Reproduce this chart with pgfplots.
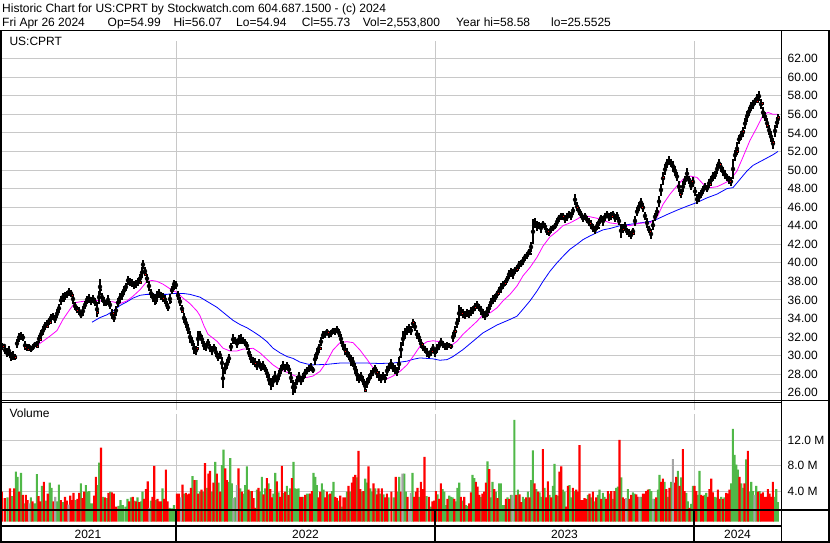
\documentclass[border=0pt]{standalone}
\usepackage{fontspec}
\setmainfont{Liberation Sans}
\usepackage{pgfplots}
\usepackage{pgfplotstable}
\pgfplotsset{compat=1.18}

\definecolor{vgreen}{RGB}{80,184,72}
\definecolor{vred}{RGB}{255,0,0}
\definecolor{vgray}{RGB}{165,165,165}
\definecolor{gridc}{RGB}{200,200,200}
\definecolor{ma1}{RGB}{255,0,255}
\definecolor{ma2}{RGB}{0,0,255}

% daily range (x = trading-day position, low, high)
\pgfplotstableread{
x lo hi
2 30.6 31.4
4 30.8 31.3
5 30.2 31.0
7 29.8 30.8
9 30.0 31.0
11 29.4 30.4
13 29.5 30.5
15 29.5 30.2
17 30.8 31.8
19 31.5 32.4
21 31.7 32.5
23 31.6 32.3
25 30.6 31.6
27 30.5 31.2
29 30.6 31.3
31 30.4 31.0
33 30.6 31.2
35 30.9 31.5
37 31.0 31.6
39 31.4 32.2
41 31.8 32.8
43 32.2 33.2
45 32.8 33.6
47 33.0 33.8
49 33.3 34.1
51 33.6 34.5
53 33.8 34.6
55 33.5 34.4
57 34.0 35.0
59 34.6 35.6
61 35.5 36.4
63 35.8 36.8
65 36.0 36.9
67 36.2 37.0
69 36.4 37.3
71 36.3 37.1
73 35.6 36.6
75 34.9 35.8
77 34.6 35.4
79 34.4 35.2
81 34.0 34.8
83 34.3 35.3
85 35.0 35.9
87 35.6 36.4
89 35.7 36.6
91 35.5 36.3
93 35.7 36.5
95 35.3 36.2
97 34.2 35.8
99 35.6 37.0
100 36.5 38.3
102 35.8 36.8
104 35.4 36.3
106 35.3 36.0
108 35.5 36.5
110 35.0 35.9
112 33.9 35.0
114 33.6 34.5
116 34.3 35.4
118 35.2 36.2
120 35.7 36.7
122 36.0 37.0
124 36.5 37.5
126 37.0 37.8
128 37.6 38.6
130 37.5 38.4
132 37.4 38.3
134 37.2 38.0
136 37.3 38.2
138 37.5 38.4
140 37.8 38.8
142 38.4 39.5
143 39.3 40.3
145 38.6 39.6
147 37.8 38.8
149 37.0 38.0
151 36.2 37.2
153 35.8 36.8
155 35.5 36.6
157 35.8 37.0
159 36.2 37.2
161 36.0 36.9
163 35.8 36.8
165 35.6 36.5
167 35.0 35.9
168 34.8 35.6
170 35.6 36.6
172 36.6 37.5
174 37.3 38.1
176 37.2 38.0
178 36.0 37.0
180 35.3 36.3
182 34.6 35.5
184 33.5 34.6
186 33.0 34.0
188 32.3 33.4
190 31.4 32.6
192 31.0 32.0
194 30.2 31.4
196 30.1 31.0
198 31.0 32.6
200 31.8 32.6
202 31.3 32.2
204 30.6 31.6
206 30.5 31.4
208 31.0 31.8
210 30.4 31.3
212 30.1 31.0
214 30.5 31.2
216 29.8 30.9
218 29.4 30.3
220 29.6 30.5
222 28.6 29.8
223 26.5 28.6
225 28.0 29.2
227 28.6 29.6
229 29.2 30.2
231 30.5 31.4
233 31.2 32.3
235 31.3 32.0
237 30.8 31.8
239 31.2 32.2
241 31.3 32.3
243 31.2 32.0
245 31.0 31.8
247 30.6 31.5
249 29.8 30.8
251 29.2 30.2
253 29.0 29.8
255 28.8 29.7
257 28.4 29.4
259 28.8 29.6
261 28.3 29.2
263 28.5 29.4
265 28.2 29.0
267 27.6 28.6
269 26.8 28.0
271 26.3 27.6
273 26.6 27.8
275 27.2 28.3
277 26.8 27.8
279 27.4 28.4
281 28.0 29.0
283 28.4 29.4
285 28.2 29.1
287 28.5 29.3
289 28.0 29.0
291 27.0 28.2
293 25.8 27.4
295 26.0 27.2
297 26.8 27.8
299 27.2 28.2
301 26.8 27.8
303 27.2 28.1
305 27.6 28.6
307 28.0 28.8
309 28.2 29.0
311 28.3 29.2
313 28.1 28.8
315 29.0 30.2
317 29.6 30.8
319 30.3 31.3
321 31.0 32.0
323 31.8 32.6
325 31.9 32.7
327 32.2 32.9
329 31.9 32.7
331 32.0 32.8
333 32.3 33.0
335 32.2 33.0
337 32.4 33.2
339 32.0 32.9
341 31.3 32.3
343 30.6 31.6
345 30.1 31.2
347 29.8 30.8
349 29.5 30.4
351 28.9 30.1
353 28.8 29.8
355 28.0 29.2
357 27.3 28.6
359 27.0 28.0
361 27.3 28.2
363 26.8 27.8
365 26.2 27.3
367 26.5 27.6
369 27.0 28.0
371 27.5 28.4
373 27.8 28.7
375 28.2 29.0
377 27.6 28.6
379 27.3 28.3
381 27.0 28.0
383 27.4 28.2
385 27.1 28.0
387 27.8 28.9
389 28.3 29.2
391 28.6 29.6
393 28.2 29.2
395 28.0 29.0
397 27.8 28.8
399 28.4 29.8
401 29.8 31.5
403 31.0 32.6
405 31.8 33.0
407 32.2 33.2
409 32.4 33.4
411 32.2 33.2
413 33.0 33.9
415 32.6 33.6
417 31.8 32.8
419 31.5 32.4
421 30.8 31.8
423 30.5 31.3
425 30.3 31.0
427 29.9 30.8
429 29.7 30.5
431 30.0 30.8
433 30.4 31.2
435 29.9 30.8
437 30.3 31.2
439 30.6 31.5
441 31.0 31.9
443 30.8 31.6
445 30.6 31.4
447 30.6 31.5
449 30.8 31.4
451 30.7 31.3
453 31.5 32.5
455 32.0 33.2
457 33.0 34.0
459 33.6 35.5
461 34.3 35.2
463 34.0 35.0
465 33.9 34.8
467 34.2 35.0
469 34.0 34.9
471 34.3 35.2
473 34.5 35.4
475 34.8 35.7
477 35.0 35.9
479 34.8 35.6
481 34.4 35.4
483 34.0 35.0
485 33.8 34.8
487 34.2 35.2
489 34.6 35.6
491 35.2 36.2
493 35.6 36.5
495 35.8 36.6
497 36.2 37.0
499 36.5 37.4
501 36.8 37.8
503 37.2 38.0
505 37.5 38.2
507 37.8 38.6
509 38.3 39.2
511 38.5 39.4
513 38.3 39.3
515 38.8 39.6
517 39.0 39.8
519 39.3 40.2
521 39.5 40.3
523 39.8 40.6
525 40.2 41.0
527 40.4 41.2
529 40.8 41.5
531 41.2 42.2
533 42.0 44.7
535 43.8 44.8
537 43.4 44.5
539 43.6 44.4
541 43.2 44.3
543 43.8 44.5
545 43.5 44.3
547 43.0 43.8
549 42.9 43.6
551 43.2 44.0
553 43.4 44.1
555 43.6 44.3
557 44.0 44.8
559 44.4 45.2
561 44.6 45.4
563 44.6 45.4
565 44.3 45.2
567 44.5 45.4
569 44.8 45.6
571 44.6 45.5
573 45.2 46.0
575 46.2 47.4
577 45.6 46.5
579 45.2 46.0
581 44.8 45.6
583 44.4 45.2
585 44.6 45.4
587 44.3 45.0
589 44.0 44.8
591 43.6 44.6
593 43.3 44.2
595 43.1 44.0
597 43.5 44.4
599 44.0 44.7
601 44.4 45.2
603 44.0 45.0
605 44.5 45.4
607 44.8 45.6
609 44.5 45.4
611 44.6 45.5
613 44.8 45.6
615 44.4 45.3
617 44.6 45.5
619 44.1 44.9
621 42.7 44.2
623 43.2 44.2
625 43.5 44.4
627 43.0 43.8
629 42.8 43.6
631 42.6 43.4
633 43.0 43.8
635 44.0 45.0
637 45.0 46.0
639 45.6 46.5
641 46.0 47.0
643 45.5 46.4
645 44.6 45.5
647 43.8 44.8
649 43.2 44.0
651 42.6 43.6
653 43.5 44.6
655 44.5 45.4
657 45.0 46.0
659 46.0 47.2
661 47.2 48.5
663 48.4 49.8
665 49.5 50.6
667 50.2 51.2
669 50.5 51.5
671 50.3 51.2
673 49.8 51.0
675 49.4 50.4
677 48.8 49.8
679 47.6 48.8
681 47.0 48.0
683 47.6 48.8
685 48.4 49.4
687 49.0 50.2
689 48.5 49.4
691 47.8 48.8
693 48.2 49.2
695 47.2 48.2
697 46.3 47.4
699 46.6 47.6
701 47.0 47.8
703 47.4 48.3
705 47.8 48.6
707 47.6 48.4
709 48.1 49.0
711 48.4 49.4
713 48.8 49.8
715 49.0 49.9
717 49.6 50.6
719 50.2 51.2
721 49.8 50.8
723 49.4 50.3
725 49.0 50.0
727 48.8 49.6
729 48.5 49.4
731 48.3 49.2
733 49.0 51.2
735 51.0 52.2
737 51.6 53.0
739 52.8 53.8
741 53.2 54.2
743 53.6 54.6
745 54.4 55.6
747 55.2 56.4
749 55.8 56.8
751 56.4 57.3
753 56.6 57.5
755 57.0 57.8
757 57.2 58.2
759 57.4 58.5
761 56.6 57.6
763 55.6 56.8
765 55.3 56.2
767 54.5 55.6
769 53.8 54.8
771 53.0 54.2
773 52.3 53.4
775 53.6 54.8
777 54.5 55.7
778 54.94 56.07
}\price

\begin{document}
\fontsize{12}{14}\selectfont
\begin{tikzpicture}[x=1pt,y=1pt]
\useasboundingbox (0,0) rectangle (830,543);

% ---- price panel ----
\begin{axis}[
    at={(0,143)}, anchor=south west,
    width=781pt, height=369pt, scale only axis,
    xmin=0, xmax=781, ymin=24.11, ymax=63.87,
    axis line style={draw=none},
    major tick length=0pt,
    xtick={176,435,694}, xticklabels={},
    ytick={26,28,30,32,34,36,38,40,42,44,46,48,50,52,54,56,58,60,62},
    yticklabels={26.00,28.00,30.00,32.00,34.00,36.00,38.00,40.00,42.00,44.00,46.00,48.00,50.00,52.00,54.00,56.00,58.00,60.00,62.00},
    yticklabel pos=right,
    yticklabel style={anchor=west, inner sep=0pt, xshift=6.5pt},
    xmajorgrids, ymajorgrids,
    major grid style={gridc, line width=0.9pt},
]
\addplot[ma2, line width=0.8pt] coordinates {
(92,33.6)(100,34.1)(107,34.4)(113,34.8)(120,35.4)(127,35.8)(133,36.2)(140,36.5)
(147,36.6)(157,36.6)(167,36.6)(173,36.7)(183,36.7)(190,36.6)(200,36.3)(217,35.2)
(233,33.8)(240,33.35)(247,33.0)(253,32.6)(260,32.1)(267,31.5)(273,30.8)(280,30.3)
(287,29.9)(293,29.7)(300,29.3)(307,29.1)(313,29.0)(327,29.06)(340,29.2)(353,29.2)
(367,29.2)(380,29.15)(393,29.2)(400,29.3)(407,29.4)(413,29.6)(420,29.75)(427,29.7)
(433,29.65)(440,29.5)(447,29.57)(453,29.9)(463,30.65)(473,31.55)(483,32.45)(497,33.3)
(510,33.9)(517,34.25)(523,35.0)(530,35.9)(537,36.96)(543,38.0)(550,39.1)(557,40.0)
(563,40.7)(570,41.46)(577,42.0)(583,42.5)(590,42.9)(597,43.26)(603,43.55)(610,43.7)
(620,44.0)(630,44.15)(640,44.3)(650,44.45)(657,44.7)(667,45.2)(677,45.67)(687,46.1)
(697,46.5)(707,47.0)(717,47.4)(727,48.0)(733,48.1)(740,49.0)(747,49.9)(753,50.5)
(760,50.9)(767,51.3)(773,51.65)(778,52.0)};
\addplot[ma1, line width=0.8pt] coordinates {
(32,31.0)(37,31.1)(43,31.55)(50,32.1)(57,32.7)(63,33.9)(70,35.0)(75,35.7)(80,35.8)
(87,35.9)(93,36.0)(100,35.9)(107,35.8)(113,35.8)(120,35.6)(127,35.9)(133,36.4)
(140,37.1)(147,38.0)(152,38.1)(157,38.0)(163,37.7)(170,37.2)(177,36.8)(183,36.2)
(190,35.6)(197,34.8)(200,34.3)(204,33.2)(208,32.3)(217,31.55)(223,30.8)(230,30.5)
(237,30.5)(243,30.7)(250,30.75)(253,30.8)(260,30.3)(267,29.6)(273,29.0)(280,28.5)
(287,28.2)(293,27.9)(300,27.6)(307,27.65)(313,27.8)(320,28.3)(327,29.4)(333,30.6)
(340,31.4)(347,31.5)(353,31.4)(360,30.6)(367,29.6)(373,28.7)(380,27.9)(387,27.5)
(393,27.8)(400,28.3)(407,29.0)(413,29.9)(420,31.0)(427,31.5)(433,31.6)(440,31.5)
(445,31.2)(450,31.0)(457,31.55)(463,32.3)(470,33.0)(477,33.7)(483,34.4)(490,34.6)
(497,35.15)(503,35.9)(510,36.6)(517,37.5)(523,38.6)(530,39.5)(537,40.6)(543,41.8)
(550,42.8)(557,43.4)(563,44.0)(570,44.3)(577,44.7)(583,45.1)(590,44.96)(597,44.8)
(603,44.6)(610,44.3)(617,44.2)(623,44.1)(630,44.0)(637,44.2)(643,44.3)(650,44.3)
(657,44.9)(663,46.3)(670,47.4)(677,48.3)(683,49.0)(690,49.35)(697,49.2)(703,48.5)
(710,48.1)(717,48.2)(723,48.5)(730,48.9)(737,49.9)(743,51.4)(750,53.2)(757,54.6)
(763,55.9)(768,56.2)(773,56.0)(778,56.0)};
% high-low bars
\addplot[only marks, mark=none,
    error bars/.cd, y dir=both, y explicit, error mark=none,
    error bar style={draw=black, line width=2pt}]
    table[x=x, y expr={(\thisrow{lo}+\thisrow{hi})/2},
          y error expr={(\thisrow{hi}-\thisrow{lo})/2}] {\price};
% red ticks
\addplot[only marks, mark=square*, mark size=0.8pt, mark options={draw=none, fill=vred}] coordinates {
(3,31.0)(10,29.9)(15,29.8)(25,30.9)(28,30.7)(37,31.0)(40,31.8)(47,33.2)(50,33.6)(55,34.1)
(63,35.9)(72,36.5)(77,34.9)(82,34.5)(90,35.8)(97,34.7)(100,37.1)(107,35.6)(113,34.6)(123,37.0)
(128,38.2)(140,37.9)(145,38.8)(155,35.7)(163,36.2)(170,35.8)(173,37.2)(182,34.8)(187,33.0)
(192,31.5)(197,30.8)(245,31.4)(255,29.2)(262,28.7)(273,27.3)(282,28.9)(293,26.1)(302,27.4)
(312,28.6)(320,30.8)(328,32.5)(337,32.8)(345,30.5)(355,28.8)(363,27.4)(365,26.3)(377,28.2)
(385,27.6)(395,28.7)(400,29.9)(413,33.6)(422,31.2)(432,30.5)(435,30.3)(450,31.0)(455,32.6)
(462,34.6)(475,35.2)(487,34.4)(498,36.7)(505,37.8)(517,39.3)(530,41.0)(537,44.0)(548,43.4)
(563,45.0)(568,45.2)(577,46.0)(590,44.3)(598,43.8)(612,45.0)(623,43.6)(633,43.2)(642,46.0)
(650,43.4)(655,45.2)(663,49.2)(670,51.0)(680,47.4)(692,48.8)(698,46.9)(710,48.5)(720,50.6)
(730,48.8)(737,52.0)(743,54.2)(750,56.6)(757,57.4)(762,57.2)(767,54.8)(773,53.0)(778,55.7)};
\end{axis}

% ---- volume panel ----
\begin{axis}[
    at={(0,33)}, anchor=south west,
    width=781pt, height=107.5pt, scale only axis,
    xmin=0, xmax=781, ymin=0, ymax=16.63,
    axis line style={draw=none},
    major tick length=0pt,
    xtick={176,435,694}, xticklabels={},
    ytick={4.64,8.64,12.64},
    yticklabels={4.0 M,8.0 M,12.0 M},
    yticklabel pos=right,
    yticklabel style={anchor=west, inner sep=0pt, xshift=6.5pt},
    xmajorgrids, ymajorgrids,
    major grid style={gridc, line width=0.9pt},
    ybar, bar width=2.1, bar shift=0pt,
    y filter/.expression={y+0.64},
]
\addplot[fill=vgreen, draw=none] coordinates {
(7.5,3.1)(12.2,3.3)(15.8,7.1)(17.5,6.3)(21,6.9)(24.2,2.2)(30.8,3.1)(34.5,2.2)(36.8,6.7)
(41.8,4.9)(45.8,2.6)(49.7,5.4)(51.5,4.6)(56.8,2.5)(58.8,5.1)(62.8,2.4)(75.5,2.7)(80.8,5.3)
(85.8,5.0)(87.5,4.0)(89.2,4.1)(91,2.2)(92.5,2.2)(97.5,5.0)(99.2,8.5)(103,3.2)(106.7,3.0)
(110.2,4.0)(118.3,1.8)(120.5,2.7)(122.8,1.9)(125.3,1.7)(127.5,2.9)(131,3.1)(134.2,2.6)
(137.5,3.1)(140.8,2.5)(142.5,4.0)(150.8,2.6)(155.8,2.7)(162.5,4.5)(169.5,1.5)(171.7,1.4)
(174,1.9)(184.2,3.7)(192.5,6.4)(196.5,5.8)(199.8,4.0)(203.2,4.0)(206.8,4.6)(211.7,4.0)
(215.2,8.6)(218.5,5.4)(221.8,8.1)(223.5,10.5)(228.3,5.5)(230.2,9.2)(231.8,5.3)(235.2,3.1)
(240.2,4.5)(243.5,3.7)(245.2,5.0)(246.8,7.9)(250.2,4.1)(256.8,4.3)(260.2,4.0)(261.8,6.3)
(265.2,4.5)(268.5,5.3)(273.5,3.7)(275.2,6.9)(278.5,3.9)(283.5,3.8)(286.8,4.9)(290.2,4.5)
(293.5,8.6)(295.2,4.5)(296.8,4.4)(298.5,4.5)(303.5,3.2)(306.8,3.7)(308.5,3.7)(313.5,6.9)
(315.2,6.3)(316.8,5.0)(321.8,5.3)(323.5,4.3)(328.5,3.6)(331.8,4.1)(333.5,5.5)(338.5,2.6)
(341.8,1.7)(346.8,4.0)(350.2,4.0)(356.8,6.2)(361.8,4.0)(365.2,6.0)(366.8,5.4)(370.2,4.5)
(371.8,4.0)(375.2,4.5)(380.2,3.7)(383.5,3.6)(388.5,3.1)
(393.7,3.1)(397.5,4.0)(399.2,6.3)(404.2,6.8)(405.8,4.0)(412.5,6.9)(419.2,3.2)(426.5,3.3)
(430.8,1.7)(437.5,3.6)(442.5,4.4)(444.2,4.0)(445.8,1.9)(449.2,3.4)(450.8,3.2)(452.5,3.1)
(455.8,2.5)(457.5,4.6)(459.2,5.4)(462.5,2.6)(465.8,1.9)(467.5,1.8)(472.5,6.6)(474.2,6.1)
(480.8,3.2)(487.5,8.7)(490.8,3.1)(492.5,5.5)(495.8,4.0)(499.2,5.3)(500.8,5.3)(502.5,1.9)
(504.2,1.9)(507.5,3.1)(510.8,3.5)(514.3,15.1)(517.8,4.3)(522.8,3.2)(524.5,2.9)(527.8,4.0)
(531.2,5.8)(532.8,10.4)(536.2,4.4)(539.5,3.9)(541.2,3.2)(544.5,4.6)(549.5,3.5)(552.8,4.9)
(554.5,8.3)(557.8,3.4)(562.8,4.3)(564.5,4.0)(569.5,5.0)(571.2,3.1)(574.5,4.1)(587.8,3.5)
(591.2,3.1)(594.5,2.5)(597.8,3.5)(599.5,4.3)(602.8,3.8)(604.5,3.2)(609.5,3.7)(612.8,2.9)
(616.2,4.6)(617.8,4.8)(621.2,6.2)(627.8,4.4)(632.8,3.9)(634.5,3.7)(641.2,3.2)(649.5,4.4)
(651.2,4.1)(654.5,2.9)(657.8,4.3)(659.5,6.6)(664.5,5.5)(667.8,3.2)(671.2,5.5)(677.8,7.2)
(681.2,6.2)(686.2,3.8)(687.8,2.5)(691.2,2.1)(692.8,4.9)(697.8,3.5)(699.5,7.2)(704.5,3.5)
(706.2,3.8)(714.5,3.2)(716.2,3.1)(721.2,3.2)(724.5,3.1)(731.2,5.3)(732.8,13.7)(734.5,9.7)
(736.2,8.2)(737.8,7.4)(741.2,5.3)(742.8,4.6)(746.2,9.0)(749.5,4.0)(751.2,5.5)(752.8,4.1)
(756.2,4.9)(759.5,4.1)(774.5,3.2)(776.2,4.4)(777.8,2.4)};
\addplot[fill=vred, draw=none] coordinates {
(1.7,4.0)(4.7,3.0)(10,4.5)(14.2,4.5)(19.2,4.0)(22.7,3.5)(25.8,3.5)(27.5,2.7)(32.5,2.5)
(38.5,3.3)(40.2,2.5)(43.8,5.5)(47.7,3.7)(53.3,2.5)(60.8,2.7)(65,3.2)(66.8,2.6)(70.2,3.4)
(71.8,2.7)(73.5,3.8)(77.5,2.9)(79.2,3.8)(82.5,3.0)(84.2,4.0)(94.2,3.4)(95.8,6.3)(101,10.8)
(104.8,3.1)(108.5,3.8)(111.8,3.9)(113.8,3.7)(116.2,1.7)(129.2,2.5)(132.7,3.2)(135.8,2.5)
(139.2,2.4)(144.2,2.9)(145.8,4.4)(147.7,5.6)(152.5,3.2)(154.2,8.0)(157.5,2.9)(159.2,2.5)
(160.8,2.5)(164.2,2.9)(165.8,7.4)(167.5,2.5)(177,3.7)(178.7,3.7)(182.5,5.1)(185.8,3.8)
(187.5,3.6)(189.2,3.7)(190.8,4.6)(194.5,5.8)(198.2,3.7)(201.5,4.3)(205,8.4)(208.5,6.8)
(210,7.2)(213.5,5.4)(216.8,6.8)(220.2,4.0)(225.2,7.6)(226.7,5.8)(238.5,7.6)(241.8,4.0)
(248.5,4.3)(251.8,4.1)(253.5,3.0)(255.2,1.5)(258.5,4.6)(263.5,3.6)(266.8,6.1)(270.2,4.4)
(271.8,3.1)(276.8,5.6)(280.2,3.2)(281.8,8.0)(285.2,4.0)(288.5,3.5)(291.8,6.1)(300.2,3.2)
(301.8,3.2)(305.2,3.5)(310.2,3.7)(311.8,4.1)(318.5,3.1)(320.2,4.0)(325.2,3.1)(326.8,4.0)
(330.2,3.7)(335.2,3.2)(336.8,3.0)(340.2,3.4)(343.5,3.1)(345.2,3.1)(348.5,4.9)(351.8,5.4)
(353.5,6.3)(355.2,6.6)(358.5,10.3)(360.2,4.4)(363.5,4.1)(368.5,7.9)(373.5,5.3)(376.8,3.6)
(378.5,4.5)(381.8,4.5)(385.2,3.1)(386.8,3.7)
(391.3,4.0)(395.7,6.3)(400.8,4.0)(407.5,3.2)(414.2,3.2)(415.8,4.0)(417.5,4.6)(420.8,5.5)
(422.5,4.4)(424.5,9.4)(428.8,3.2)(432.5,2.5)(434.2,2.6)(435.8,4.1)(439.2,2.9)(440.8,5.3)
(447.5,2.9)(454.2,2.9)(460.8,3.2)(464.2,3.2)(469.2,2.2)(470.8,3.9)(475.8,5.5)(477.5,4.8)
(479.2,3.5)(482.5,3.7)(484.2,4.0)(485.8,5.4)(489.2,7.5)(494.2,4.4)(497.5,3.0)(505.8,2.9)
(509.2,2.9)(516.2,3.5)(519.5,3.6)(521.2,2.4)(526.2,3.1)(529.5,3.1)(534.5,5.3)(537.8,4.0)
(542.8,10.6)(546.2,3.1)(547.8,5.6)(551.2,3.1)(556.2,3.5)(559.5,7.1)(561.2,7.9)(566.2,1.7)
(567.8,4.9)(572.8,4.6)(576.2,4.3)(577.8,4.0)(579.5,11.2)(581.2,2.7)(582.8,2.7)(584.5,3.0)
(586.2,2.9)(589.5,3.7)(592.8,4.0)(596.2,3.1)(601.2,2.9)(606.2,2.9)(607.8,4.1)(611.2,4.1)
(614.5,4.1)(619.5,12.0)(622.8,3.1)(624.5,2.9)(629.5,2.9)(631.2,3.5)(636.2,3.6)(637.8,3.2)
(642.8,3.7)(644.5,3.7)(646.2,4.1)(647.8,4.3)(656.2,3.1)(661.2,5.5)(662.8,6.0)(666.2,4.4)
(669.5,4.6)(674.5,5.4)(676.2,6.3)(679.5,4.9)(682.8,10.6)(684.5,4.1)(689.5,1.5)(694.5,4.9)
(696.2,4.1)(701.2,3.5)(702.8,3.3)(707.8,3.2)(709.5,4.4)(711.2,6.0)(712.8,3.9)(717.8,4.3)
(719.5,2.9)(722.8,2.9)(726.2,3.8)(727.8,3.7)(729.5,4.3)(739.5,6.3)(744.5,5.3)(747.8,10.3)
(757.8,4.0)(761.2,3.7)(762.8,3.9)(764.5,3.2)(766.2,3.2)(767.8,4.4)(769.5,3.7)(771.2,3.2)
(772.8,5.5)};
\addplot[fill=vgray, draw=none] coordinates {
(29.2,2.2)(55.2,3.2)(68.5,2.0)(149.3,1.5)(180.8,3.1)(233.5,3.0)(236.8,5.0)(402.5,6.8)
(409.2,1.2)(410.8,3.8)(512.5,3.5)(626.2,3.0)(639.5,3.2)(652.8,2.9)(672.8,9.05)(754.5,3.5)};
\end{axis}

% ---- frame and captions ----
\draw[line width=1.2pt] (0,512.5) -- (830,512.5);
\draw[line width=2pt] (1,512.5) -- (1,0);
\draw[line width=1.5pt] (829,512.5) -- (829,0);
\draw[line width=1.5pt] (781.5,512.5) -- (781.5,0);
\draw[line width=1pt] (0,142.6) -- (829,142.6);
\draw[line width=1pt] (0,140.4) -- (781.5,140.4);
\draw[line width=2pt] (0,33) -- (829,33);
\draw[line width=1.2pt] (0,17) -- (781.5,17);
\draw[line width=2pt] (0,1.2) -- (829,1.2);
\foreach \xx in {176,435,694} \draw[line width=1.2pt] (\xx,33) -- (\xx,1.2);

\node[anchor=base west, inner sep=0pt] at (2,530.7) {Historic Chart for US:CPRT by Stockwatch.com 604.687.1500 - (c) 2024};
\node[anchor=base west, inner sep=0pt] at (2,516.3) {Fri Apr 26 2024};
\node[anchor=base west, inner sep=0pt] at (107.5,516.3) {Op=54.99};
\node[anchor=base west, inner sep=0pt] at (173.3,516.3) {Hi=56.07};
\node[anchor=base west, inner sep=0pt] at (236,516.3) {Lo=54.94};
\node[anchor=base west, inner sep=0pt] at (301.7,516.3) {Cl=55.73};
\node[anchor=base west, inner sep=0pt] at (362.7,516.3) {Vol=2,553,800};
\node[anchor=base west, inner sep=0pt] at (456,516.3) {Year hi=58.58};
\node[anchor=base west, inner sep=0pt] at (551,516.3) {lo=25.5525};
\node[anchor=base west, inner sep=0pt] at (9.3,497.3) {US:CPRT};
\node[anchor=base west, inner sep=0pt] at (9.3,125) {Volume};
\node[anchor=base, inner sep=0pt] at (88,4.2) {2021};
\node[anchor=base, inner sep=0pt] at (305.5,4.2) {2022};
\node[anchor=base, inner sep=0pt] at (564.5,4.2) {2023};
\node[anchor=base, inner sep=0pt] at (737.5,4.2) {2024};
\end{tikzpicture}
\end{document}
